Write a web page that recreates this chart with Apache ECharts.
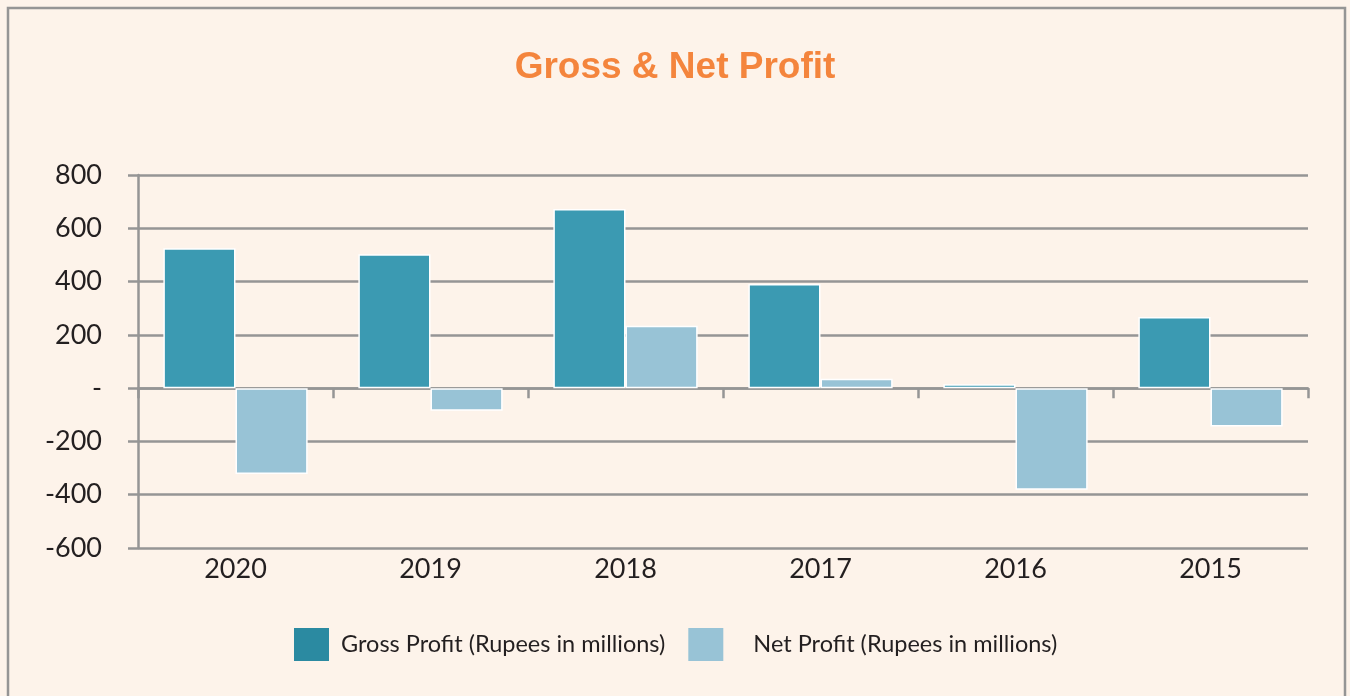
<!DOCTYPE html>
<html>
<head>
<meta charset="utf-8">
<title>Gross & Net Profit</title>
<script src="https://cdn.jsdelivr.net/npm/echarts@6/dist/echarts.min.js"></script>
<style>
    html, body { margin: 0; padding: 0; background: #fdf3ea; }
    #chart { width: 1350px; height: 696px; }
</style>
</head>
<body>
<div id="chart"></div>
<script>
// 데이터 (Rupees in millions)
const years = ['2020', '2019', '2018', '2017', '2016', '2015'];
const grossProfit = [525, 503, 672, 391, 15, 267];
const netProfit = [-322, -85, 234, 35, -381, -144];
const seriesNames = ['Gross Profit (Rupees in millions)', 'Net Profit (Rupees in millions)'];

const gridColor = '#959595';
const textColor = '#231f20';

const chart = echarts.init(document.getElementById('chart'));

chart.setOption({
    backgroundColor: '#fdf3ea',
    animation: false,
    // 바깥 테두리
    graphic: [{
        type: 'rect',
        shape: { x: 8, y: 8, width: 1337, height: 720 },
        style: { fill: 'none', stroke: gridColor, lineWidth: 2.5 },
        silent: true
    }],
    title: {
        text: 'Gross & Net Profit',
        left: 'center',
        top: 44,
        textStyle: { color: '#f4853d', fontSize: 37, fontWeight: 'bold', fontFamily: 'Liberation Sans, Arial, sans-serif' }
    },
    legend: {
        left: 294,
        top: 628,
        padding: 0,
        icon: 'rect',
        itemWidth: 35,
        itemHeight: 33,
        itemGap: 23,
        data: [
            { name: seriesNames[0], itemStyle: { color: '#2b8aa1', borderWidth: 0 } },
            { name: seriesNames[1], itemStyle: { color: '#98c3d6', borderWidth: 0 } }
        ],
        formatter: name => name === seriesNames[1] ? '   ' + name : name,
        textStyle: { fontSize: 23.5, color: textColor, fontFamily: 'Lato, sans-serif', padding: [0, 0, 0, 7] }
    },
    grid: { left: 138, right: 42, top: 175, bottom: 148, containLabel: false },
    xAxis: [{
        type: 'category',
        data: years,
        position: 'bottom',
        axisLine: { show: false, onZero: false },
        axisTick: { show: false },
        axisLabel: { fontSize: 27, color: textColor, fontFamily: 'Lato, sans-serif', margin: 8 }
    }, {
        // 0 기준선 (눈금 포함)
        type: 'category',
        data: years,
        position: 'top',
        axisLine: { show: true, onZero: true, lineStyle: { color: gridColor, width: 2.5 } },
        axisTick: { show: true, inside: true, length: 10, lineStyle: { color: gridColor, width: 2.5 } },
        axisLabel: { show: false }
    }],
    yAxis: {
        type: 'value',
        min: -600,
        max: 800,
        interval: 200,
        axisLine: { show: true, lineStyle: { color: gridColor, width: 2.5 } },
        axisTick: { show: true, length: 10, lineStyle: { color: gridColor, width: 2.5 } },
        splitLine: { show: true, lineStyle: { color: gridColor, width: 2.5 } },
        axisLabel: {
            fontSize: 27,
            color: textColor,
            fontFamily: 'Lato, sans-serif',
            margin: 36,
            formatter: v => v === 0 ? '-' : String(v)
        }
    },
    series: [{
        name: seriesNames[0],
        type: 'bar',
        xAxisIndex: 0,
        data: grossProfit,
        barGap: '0%',
        barCategoryGap: '26%',
        itemStyle: { color: '#3b9ab2', borderColor: '#ffffff', borderWidth: 1.5 }
    }, {
        name: seriesNames[1],
        type: 'bar',
        xAxisIndex: 0,
        data: netProfit,
        itemStyle: { color: '#98c3d6', borderColor: '#ffffff', borderWidth: 1.5 }
    }]
});

window.addEventListener('resize', () => chart.resize());
</script>
</body>
</html>
